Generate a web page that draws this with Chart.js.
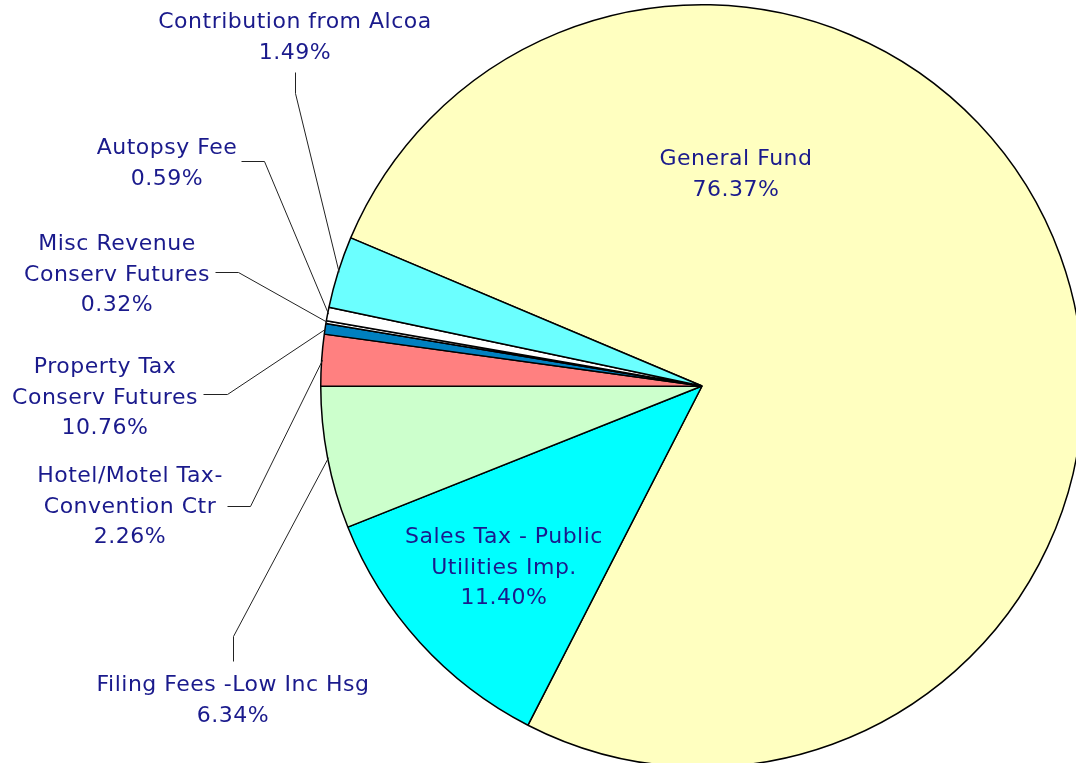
<!DOCTYPE html>
<html>
<head>
<meta charset="utf-8">
<script src="https://cdn.jsdelivr.net/npm/chart.js@4.4.1/dist/chart.umd.min.js"></script>
<style>
html, body { margin: 0; padding: 0; background: #fff; overflow: hidden; }
#pie { position: absolute; left: 0; top: 0; }
</style>
</head>
<body>
<canvas id="pie" width="1090" height="768"></canvas>
<script>
// slice names (one entry per line of the label), clockwise from General Fund
const categories = [
    ['General Fund'],
    ['Sales Tax - Public', 'Utilities Imp.'],
    ['Filing Fees -Low Inc Hsg'],
    ['Hotel/Motel Tax-', 'Convention Ctr'],
    ['Property Tax', 'Conserv Futures'],
    ['Misc Revenue', 'Conserv Futures'],
    ['Autopsy Fee'],
    ['Contribution from Alcoa']
];
// slice sizes as measured on the picture (percent of the circle)
const values = [76.24, 11.43, 6.03, 2.18, 0.45, 0.12, 0.57, 3.04];
// percentages as printed in the labels
const shareText = ['76.37%', '11.40%', '6.34%', '2.26%', '10.76%', '0.32%', '0.59%', '1.49%'];
const colors = ['#FFFFC0', '#00FFFF', '#CCFFCC', '#FF8080', '#0080C0', '#FFFFFF', '#FFFFFF', '#6BFFFF'];

// label placement: centre x, baseline of first line, leader stub (label end -> elbow)
const labelPos = [
    {x: 736, y: 165, lead: null},
    {x: 504, y: 543, lead: null},
    {x: 233, y: 691, lead: [[233, 661], [233, 636]]},
    {x: 130, y: 482, lead: [[227, 506], [250, 506]]},
    {x: 105, y: 373, lead: [[203, 394], [227, 394]]},
    {x: 117, y: 250, lead: [[215, 272], [238, 272]]},
    {x: 167, y: 154, lead: [[241, 161], [264, 161]]},
    {x: 295, y: 28,  lead: [[295, 72], [295, 93]]}
];
const lineH = 30.5;

const sliceLabels = {
    id: 'sliceLabels',
    afterDraw(chart){
        let ctx = chart.ctx;
        let arcs = chart.getDatasetMeta(0).data;
        ctx.save();
        // leader lines
        ctx.strokeStyle = '#222';
        ctx.lineWidth = 1;
        arcs.forEach((arc, i) => {
            let lead = labelPos[i].lead;
            if(!lead) return;
            let p = arc.getProps(['x', 'y', 'startAngle', 'endAngle', 'outerRadius']);
            let mid = (p.startAngle + p.endAngle) / 2;
            let ex = p.x + Math.cos(mid) * (p.outerRadius - 1);
            let ey = p.y + Math.sin(mid) * (p.outerRadius - 1);
            ctx.beginPath();
            ctx.moveTo(lead[0][0] + 0.5, lead[0][1] + 0.5);
            ctx.lineTo(lead[1][0] + 0.5, lead[1][1] + 0.5);
            ctx.lineTo(ex, ey);
            ctx.stroke();
        });
        // texts
        ctx.fillStyle = '#1a1a8c';
        ctx.font = '22px "DejaVu Sans"';
        ctx.letterSpacing = '0.5px';
        ctx.textAlign = 'center';
        ctx.textBaseline = 'alphabetic';
        categories.forEach((lines, i) => {
            let all = lines.concat([shareText[i]]);
            all.forEach((t, k) => {
                ctx.fillText(t, labelPos[i].x, labelPos[i].y + k * lineH);
            });
        });
        ctx.restore();
    }
};

new Chart(document.getElementById('pie'), {
    type: 'pie',
    data: {
        labels: categories,
        datasets: [{
            data: values,
            backgroundColor: colors,
            borderColor: '#000',
            borderWidth: 1.5,
            hoverOffset: 0
        }]
    },
    options: {
        responsive: false,
        animation: false,
        events: [],
        rotation: 292.86,
        layout: {padding: {left: 320, top: 4, right: 6, bottom: 0}},
        plugins: {
            legend: {display: false},
            tooltip: {enabled: false}
        }
    },
    plugins: [sliceLabels]
});
</script>
</body>
</html>
